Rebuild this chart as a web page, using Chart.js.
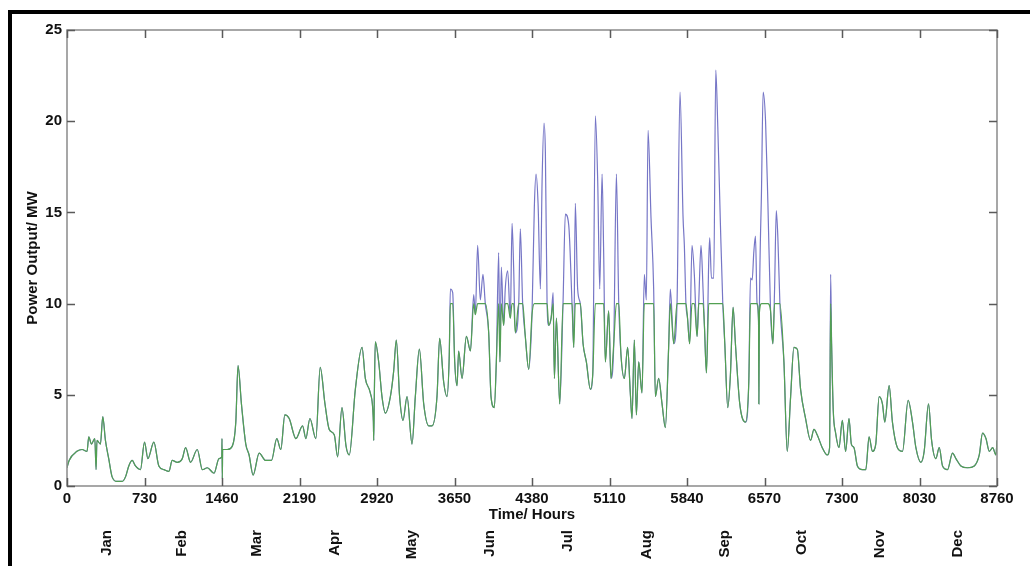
<!DOCTYPE html>
<html>
<head>
<meta charset="utf-8">
<script src="https://cdn.jsdelivr.net/npm/chart.js@4.4.1/dist/chart.umd.min.js"></script>
<style>
  html, body { margin: 0; padding: 0; background: #fff; }
  #wrap { position: relative; width: 1030px; height: 566px; overflow: hidden; }
  #frame { position: absolute; left: 8px; top: 10px; width: 1040px; height: 600px;
           border-top: 4px solid #000; border-left: 4px solid #000; box-sizing: border-box; }
  canvas { position: absolute; left: 0; top: 0; }
</style>
</head>
<body>
<div id="wrap">
  <div id="frame"></div>
  <canvas id="c" width="1030" height="566"></canvas>
</div>
<script>
// ---- data ----
const hours = [0,20,94,142,189,205,230,262,274,282,315,337,362,393,425,472,519,551,582,614,645,692,730,762,818,865,913,960,991,1039,1086,1117,1164,1227,1275,1322,1385,1432,1458,1460,1463,1466,1510,1558,1590,1611,1643,1684,1715,1753,1810,1872,1926,1976,2014,2052,2093,2156,2219,2250,2288,2344,2385,2430,2470,2518,2549,2590,2628,2659,2716,2779,2810,2857,2886,2889,2895,2904,2936,2967,2999,3046,3077,3102,3133,3165,3203,3250,3281,3319,3360,3407,3438,3485,3510,3548,3579,3600,3611,3633,3652,3674,3689,3721,3762,3800,3831,3846,3868,3893,3918,3940,3972,3994,4025,4044,4066,4078,4091,4113,4128,4151,4176,4192,4207,4223,4255,4270,4292,4317,4349,4380,4402,4418,4437,4459,4475,4493,4506,4522,4537,4560,4579,4591,4610,4641,4673,4694,4726,4757,4773,4788,4810,4835,4861,4892,4930,4952,4977,4999,5018,5040,5055,5071,5102,5124,5150,5175,5197,5218,5250,5281,5306,5322,5344,5363,5385,5416,5438,5457,5473,5501,5526,5542,5573,5605,5636,5667,5683,5715,5746,5774,5803,5815,5830,5845,5865,5887,5909,5935,5950,5972,5991,6004,6023,6045,6054,6070,6092,6111,6130,6155,6177,6196,6224,6249,6274,6296,6337,6391,6422,6438,6454,6469,6485,6500,6514,6517,6522,6542,6557,6580,6602,6627,6649,6665,6681,6696,6715,6753,6784,6816,6847,6879,6910,6957,7004,7036,7067,7114,7161,7183,7193,7202,7218,7240,7272,7303,7334,7366,7388,7413,7445,7492,7524,7555,7587,7618,7650,7681,7703,7744,7775,7822,7870,7923,7964,7996,8043,8074,8115,8144,8184,8216,8247,8294,8341,8373,8420,8483,8546,8593,8624,8656,8688,8719,8750,8760];
const power = [1.0,1.4,1.9,2.0,1.9,2.7,2.3,2.6,0.9,2.5,2.3,3.8,2.5,1.5,0.5,0.25,0.25,0.5,1.1,1.4,1.1,0.9,2.4,1.5,2.4,1.1,0.9,0.8,1.4,1.3,1.5,2.1,1.3,2.0,0.9,1.0,0.7,1.5,1.6,2.6,0.4,2.0,2.0,2.2,3.5,6.6,4.5,2.3,1.7,0.6,1.8,1.4,1.4,2.6,2.0,3.9,3.7,2.6,3.3,2.6,3.7,2.6,6.5,4.5,3.1,2.8,1.6,4.3,2.2,1.7,5.3,7.6,5.9,5.1,3.5,2.5,5.0,7.9,6.8,4.9,4.0,4.9,6.3,8.0,4.9,3.6,4.9,2.3,4.9,7.5,4.5,3.3,3.3,4.9,8.1,5.7,4.9,7.0,10.8,10.6,6.8,5.5,7.4,5.9,8.2,7.4,10.5,9.4,13.2,10.2,11.6,10.0,8.4,4.9,4.3,6.8,12.8,6.8,12.0,8.8,10.8,11.8,9.2,14.4,12.0,8.4,10.0,14.1,10.0,8.2,6.4,9.4,15.3,17.1,15.5,10.8,16.7,19.9,18.3,10.0,8.8,9.2,10.6,5.9,9.2,4.5,10.2,14.9,14.3,10.0,7.6,15.5,10.8,10.0,7.8,6.8,5.3,6.1,20.3,16.7,10.8,17.1,12.8,6.8,9.6,5.9,7.8,17.1,10.0,7.2,5.9,7.6,5.1,3.7,8.0,3.9,6.8,5.1,11.6,10.2,19.5,14.7,10.8,4.9,5.9,4.5,3.2,7.6,10.8,7.8,10.0,21.6,14.7,13.2,10.0,9.2,7.8,13.2,11.6,8.2,10.0,13.2,10.8,8.8,6.2,12.4,13.6,11.4,11.4,22.8,19.7,14.3,10.0,7.8,4.3,6.1,9.8,7.8,4.5,3.5,5.7,11.4,11.3,12.8,13.7,10.0,9.0,4.5,9.5,16.3,21.6,20.0,15.5,9.6,7.8,10.8,15.1,13.6,10.0,6.8,1.9,4.9,7.6,7.5,5.3,3.7,2.5,3.1,2.8,2.1,1.7,2.1,11.6,7.8,4.1,2.9,2.1,3.6,1.9,3.7,2.3,2.1,1.1,0.9,0.9,2.7,1.9,2.3,4.9,4.5,3.5,5.5,3.5,2.1,1.9,4.7,3.5,2.1,1.3,1.9,4.5,2.5,1.5,2.1,1.1,0.9,1.8,1.5,1.1,1.0,1.1,1.7,2.9,2.6,1.9,2.1,1.7,2.5];
const capLimitMW = 10;   // green series: output limited at 10 MW
const xTickStep = 730;
const monthLabels = ['Jan','Feb','Mar','Apr','May','Jun','Jul','Aug','Sep','Oct','Nov','Dec'];
const monthMidHours = [372,1080,1788,2520,3252,3984,4716,5460,6192,6924,7656,8388];

const rawPoints = hours.map((h, i) => ({x: h, y: power[i]}));
const cappedPoints = hours.map((h, i) => ({x: h, y: Math.min(power[i], capLimitMW)}));

const FONT = {family: '"Liberation Sans", Arial, sans-serif', weight: 'bold', size: 15};

const framePlugin = {
  id: 'framePlugin',
  afterDatasetsDraw(chart) {
    const {ctx, chartArea: {left, right, top, bottom}, scales: {x, y}} = chart;
    ctx.save();
    ctx.strokeStyle = '#8a8a8a';
    ctx.lineWidth = 1.5;
    ctx.strokeRect(left, top, right - left, bottom - top);
    ctx.strokeStyle = '#5a5a5a';
    ctx.lineWidth = 1.5;
    const L = 8;
    ctx.beginPath();
    x.ticks.forEach(t => {
      const px = Math.round(x.getPixelForValue(t.value)) + 0.5;
      ctx.moveTo(px, bottom); ctx.lineTo(px, bottom - L);
      ctx.moveTo(px, top); ctx.lineTo(px, top + L);
    });
    y.ticks.forEach(t => {
      const py = Math.round(y.getPixelForValue(t.value)) + 0.5;
      ctx.moveTo(left, py); ctx.lineTo(left + L, py);
      ctx.moveTo(right, py); ctx.lineTo(right - L, py);
    });
    ctx.stroke();
    ctx.restore();
  }
};

new Chart(document.getElementById('c'), {
  type: 'line',
  data: {
    datasets: [
      {label: 'Output', data: rawPoints, borderColor: '#7676c6', borderWidth: 1.2,
       pointRadius: 0, cubicInterpolationMode: 'monotone', fill: false, order: 2},
      {label: 'Limited output', data: cappedPoints, borderColor: '#52a052', borderWidth: 1.2,
       pointRadius: 0, cubicInterpolationMode: 'monotone', fill: false, order: 1}
    ]
  },
  options: {
    responsive: false,
    animation: false,
    layout: {padding: {left: 24, right: 33, top: 30, bottom: 0}},
    plugins: {legend: {display: false}, tooltip: {enabled: false}},
    scales: {
      x: {
        type: 'linear', position: 'bottom', min: 0, max: 8760, weight: 0,
        grid: {display: false, drawTicks: false}, border: {display: false},
        ticks: {stepSize: xTickStep, autoSkip: false, maxRotation: 0, color: '#111', font: FONT, padding: 4,
          callback(v) { return String(v); }},
        title: {display: true, text: 'Time/ Hours', color: '#111', font: FONT, padding: {top: 0, bottom: 0}},
        afterFit(s) { s.height = 38; }
      },
      xm: {
        type: 'linear', position: 'bottom', min: 0, max: 8760, weight: 1,
        grid: {display: false, drawTicks: false}, border: {display: false},
        afterBuildTicks(s) { s.ticks = monthMidHours.map(v => ({value: v})); },
        ticks: {autoSkip: false, minRotation: 90, maxRotation: 90, color: '#111', font: FONT, padding: 6,
          callback(v) { const i = monthMidHours.indexOf(v); return i >= 0 ? monthLabels[i] : ''; }},
        afterFit(s) { s.height = 42; }
      },
      y: {
        type: 'linear', min: 0, max: 25,
        grid: {display: false, drawTicks: false}, border: {display: false},
        ticks: {stepSize: 5, color: '#111', font: FONT, padding: 5},
        title: {display: true, text: 'Power Output/ MW', color: '#111', font: FONT, padding: {top: 0, bottom: 2}},
        afterFit(s) { s.width = 43; }
      }
    }
  },
  plugins: [framePlugin]
});
</script>
</body>
</html>
